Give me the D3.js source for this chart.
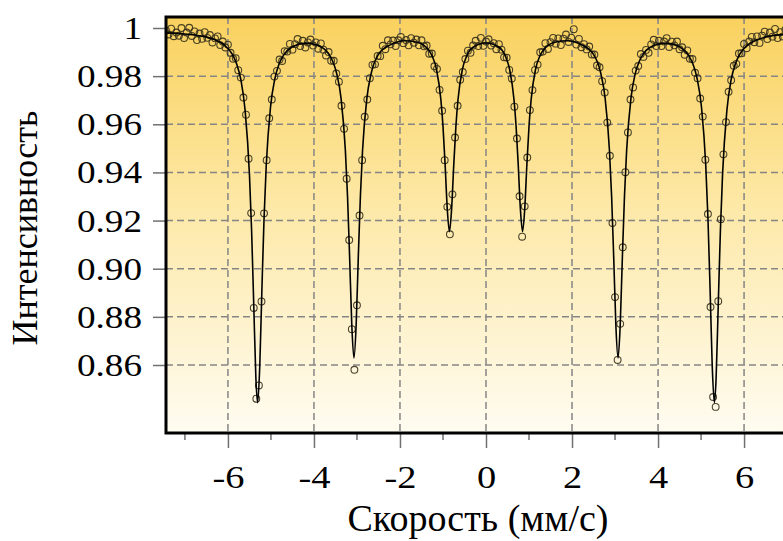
<!DOCTYPE html>
<html>
<head>
<meta charset="utf-8">
<script src="https://d3js.org/d3.v7.min.js"></script>
<style>
  body { margin: 0; background: #fff; }
  svg { display: block; }
</style>
</head>
<body>
<div id="chart"></div>
<script>
// measured spectrum: velocity (mm/s) and relative intensity
var velocity = [
  -7.44,-7.38,-7.32,-7.26,-7.2,-7.14,-7.08,-7.02,-6.96,-6.9,
  -6.84,-6.78,-6.72,-6.66,-6.6,-6.54,-6.48,-6.42,-6.36,-6.3,
  -6.24,-6.18,-6.12,-6.06,-6,-5.94,-5.88,-5.82,-5.76,-5.7,
  -5.64,-5.58,-5.52,-5.46,-5.4,-5.34,-5.28,-5.22,-5.16,-5.1,
  -5.04,-4.98,-4.92,-4.86,-4.8,-4.74,-4.68,-4.62,-4.56,-4.5,
  -4.44,-4.38,-4.32,-4.26,-4.2,-4.14,-4.08,-4.02,-3.96,-3.9,
  -3.84,-3.78,-3.72,-3.66,-3.6,-3.54,-3.48,-3.42,-3.36,-3.3,
  -3.24,-3.18,-3.12,-3.06,-3,-2.94,-2.88,-2.82,-2.76,-2.7,
  -2.64,-2.58,-2.52,-2.46,-2.4,-2.34,-2.28,-2.22,-2.16,-2.1,
  -2.04,-1.98,-1.92,-1.86,-1.8,-1.74,-1.68,-1.62,-1.56,-1.5,
  -1.44,-1.38,-1.32,-1.26,-1.2,-1.14,-1.08,-1.02,-0.96,-0.9,
  -0.84,-0.78,-0.72,-0.66,-0.6,-0.54,-0.48,-0.42,-0.36,-0.3,
  -0.24,-0.18,-0.12,-0.06,0,
  0.06,0.12,0.18,0.24,0.3,0.36,0.42,0.48,0.54,0.6,
  0.66,0.72,0.78,0.84,0.9,0.96,1.02,1.08,1.14,1.2,
  1.26,1.32,1.38,1.44,1.5,1.56,1.62,1.68,1.74,1.8,
  1.86,1.92,1.98,2.04,2.1,2.16,2.22,2.28,2.34,2.4,
  2.46,2.52,2.58,2.64,2.7,2.76,2.82,2.88,2.94,3,
  3.06,3.12,3.18,3.24,3.3,3.36,3.42,3.48,3.54,3.6,
  3.66,3.72,3.78,3.84,3.9,3.96,4.02,4.08,4.14,4.2,
  4.26,4.32,4.38,4.44,4.5,4.56,4.62,4.68,4.74,4.8,
  4.86,4.92,4.98,5.04,5.1,5.16,5.22,5.28,5.34,5.4,
  5.46,5.52,5.58,5.64,5.7,5.76,5.82,5.88,5.94,6,
  6.06,6.12,6.18,6.24,6.3,6.36,6.42,6.48,6.54,6.6,
  6.66,6.72,6.78,6.84,6.9,6.96,7.02,7.08,7.14,7.2,
  7.26,7.32,7.38,7.44
]

var intensity = [
  .9990,.9973,.9997,.9966,.9981,.9968,1.0000,.9958,.9981,1.0001,
  .9967,.9986,.9950,.9977,.9955,.9983,.9959,.9971,.9940,.9957,
  .9965,.9929,.9944,.9919,.9931,.9897,.9872,.9875,.9825,.9794,
  .9711,.9640,.9457,.9231,.8837,.8460,.8515,.8864,.9230,.9451,
  .9625,.9703,.9798,.9822,.9869,.9863,.9904,.9902,.9934,.9910,
  .9933,.9954,.9925,.9947,.9919,.9940,.9952,.9927,.9940,.9914,
  .9936,.9910,.9886,.9900,.9864,.9864,.9811,.9777,.9677,.9581,
  .9374,.9119,.8749,.8580,.8848,.9221,.9451,.9631,.9703,.9791,
  .9847,.9849,.9884,.9883,.9926,.9912,.9949,.9932,.9948,.9925,
  .9949,.9963,.9937,.9950,.9928,.9958,.9939,.9952,.9928,.9949,
  .9924,.9927,.9893,.9894,.9841,.9830,.9743,.9656,.9451,.9257,
  .9143,.9309,.9545,.9677,.9785,.9817,.9871,.9906,.9897,.9927,
  .9947,.9925,.9959,.9926,.9944,
  .9953,.9927,.9937,.9912,.9933,.9910,.9878,.9877,.9826,.9790,
  .9673,.9541,.9301,.9133,.9259,.9462,.9659,.9742,.9826,.9848,
  .9899,.9902,.9937,.9913,.9941,.9959,.9935,.9957,.9929,.9956,
  .9973,.9942,.9960,.9995,.9931,.9955,.9920,.9933,.9911,.9923,
  .9890,.9890,.9844,.9837,.9779,.9732,.9607,.9469,.9190,.8882,
  .8621,.8771,.9089,.9401,.9566,.9703,.9753,.9823,.9842,.9892,
  .9880,.9909,.9897,.9932,.9951,.9925,.9947,.9925,.9944,.9958,
  .9921,.9943,.9928,.9944,.9912,.9920,.9889,.9907,.9872,.9871,
  .9814,.9791,.9707,.9632,.9453,.9227,.8841,.8467,.8426,.8865,
  .9206,.9475,.9609,.9735,.9783,.9843,.9851,.9894,.9895,.9934,
  .9916,.9944,.9963,.9941,.9965,.9938,.9968,.9985,.9954,.9981,
  .9964,.9996,.9958,.9983,.9965,.9993,.9960,.9982,.9994,.9968,
  .9990,.9974,.9987,.9969
]

// fitted sextet curve
var fitVelocity = [
  -7.45,-7.0,-6.6,-6.3,-6.1,-5.9,-5.8,-5.7,-5.6,-5.5,-5.45,-5.4,-5.35,-5.31,-5.26,-5.21,-5.16,-5.11,-5.01,-4.91,
  -4.81,-4.71,-4.5,-4.2,-3.9,-3.67,-3.57,-3.47,-3.37,-3.27,-3.22,-3.17,-3.12,-3.07,-3.02,-2.97,-2.92,-2.87,-2.77,-2.67,
  -2.47,-2.2,-1.9,-1.6,-1.45,-1.35,-1.25,-1.15,-1.05,-1.0,-0.95,-0.9,-0.85,-0.8,-0.75,-0.7,-0.65,-0.55,-0.45,-0.3,
  0,
  0.3,0.45,0.55,0.65,0.7,0.75,0.8,0.85,0.9,0.95,1.0,1.05,1.15,1.25,1.35,1.45,1.6,1.9,2.2,2.47,
  2.67,2.77,2.87,2.92,2.97,3.02,3.07,3.12,3.17,3.22,3.27,3.37,3.47,3.57,3.67,3.9,4.2,4.5,4.71,4.81,
  4.91,5.01,5.11,5.16,5.21,5.26,5.31,5.35,5.4,5.45,5.5,5.6,5.7,5.8,5.9,6.1,6.3,6.6,7.0,7.45
]
var fitIntensity = [
  .9980,.9975,.9966,.9951,.9932,.9891,.9852,.9786,.9657,.9392,.9160,.8851,.8545,.8443,.8596,.8916,.9211,.9427,.9672,.9789,
  .9851,.9886,.9922,.9937,.9927,.9895,.9864,.9810,.9708,.9492,.9303,.9044,.8764,.8629,.8762,.9043,.9303,.9492,.9708,.9811,
  .9898,.9932,.9947,.9941,.9929,.9912,.9883,.9827,.9704,.9592,.9431,.9247,.9154,.9247,.9430,.9591,.9704,.9827,.9883,.9920,
  .9938,
  .9920,.9883,.9827,.9704,.9591,.9430,.9247,.9154,.9247,.9431,.9592,.9704,.9827,.9883,.9912,.9929,.9941,.9947,.9932,.9898,
  .9811,.9708,.9492,.9303,.9043,.8762,.8629,.8764,.9044,.9303,.9492,.9708,.9810,.9864,.9895,.9927,.9937,.9922,.9886,.9851,
  .9789,.9672,.9427,.9211,.8916,.8596,.8443,.8545,.8851,.9160,.9392,.9657,.9786,.9852,.9891,.9932,.9951,.9966,.9975,.9980
]

var xTicks = [-6, -4, -2, 0, 2, 4, 6]
var xMinorTicks = [-7, -5, -3, -1, 1, 3, 5, 7]
var yTicks = [1, 0.98, 0.96, 0.94, 0.92, 0.90, 0.88, 0.86]
var yTickLabels = ["1", "0.98", "0.96", "0.94", "0.92", "0.90", "0.88", "0.86"]

var width = 783
var height = 541
var pLeft = 166, pTop = 17, pRight = 806, pBottom = 433
var stretch = 1.2   // tick digits in the picture are a bit wider than Times
var serif = "'Liberation Serif', 'Times New Roman', serif"

var x = d3.scaleLinear().domain([-7.44, 7.44]).range([pLeft, pRight])
var y = d3.scaleLinear().domain([0.83175, 1.00457]).range([pBottom, pTop])

var svg = d3.select("#chart").append("svg")
    .attr("width", width)
    .attr("height", height)
    .style("font-family", serif)

var defs = svg.append("defs")
var grad = defs.append("linearGradient")
    .attr("id", "bg")
    .attr("x1", 0).attr("y1", 0).attr("x2", 0).attr("y2", 1)
grad.append("stop").attr("offset", "0%").attr("stop-color", "#f9d15e")
grad.append("stop").attr("offset", "45%").attr("stop-color", "#fde8a6")
grad.append("stop").attr("offset", "100%").attr("stop-color", "#fffcf1")

defs.append("clipPath").attr("id", "plotclip")
  .append("rect")
    .attr("x", pLeft).attr("y", pTop)
    .attr("width", pRight - pLeft).attr("height", pBottom - pTop)

svg.append("rect")
    .attr("x", pLeft).attr("y", pTop)
    .attr("width", pRight - pLeft).attr("height", pBottom - pTop)
    .attr("fill", "url(#bg)")

// dashed grid
var grid = svg.append("g")
    .attr("stroke", "#858585")
    .attr("stroke-width", 1.5)
    .attr("stroke-dasharray", "7,4")
grid.selectAll("line.v")
  .data(xTicks)
  .join("line")
    .attr("class", "v")
    .attr("x1", d => x(d)).attr("x2", d => x(d))
    .attr("y1", pTop).attr("y2", pBottom)
grid.selectAll("line.h")
  .data(yTicks.filter(d => d < 1))
  .join("line")
    .attr("class", "h")
    .attr("x1", pLeft).attr("x2", pRight)
    .attr("y1", d => y(d)).attr("y2", d => y(d))

var plot = svg.append("g").attr("clip-path", "url(#plotclip)")

var pts = velocity.map((v, i) => ({v: v, I: intensity[i]}))
plot.append("g")
    .attr("fill", "none")
    .attr("stroke", "#36311c")
    .attr("stroke-width", 1.1)
    .attr("stroke-opacity", 0.9)
  .selectAll("circle")
  .data(pts)
  .join("circle")
    .attr("cx", d => x(d.v))
    .attr("cy", d => y(d.I))
    .attr("r", 3.4)

var fit = fitVelocity.map((v, i) => [v, fitIntensity[i]])
var line = d3.line()
    .x(d => x(d[0]))
    .y(d => y(d[1]))
    .curve(d3.curveMonotoneX)
plot.append("path")
    .datum(fit)
    .attr("fill", "none")
    .attr("stroke", "#000")
    .attr("stroke-width", 1.6)
    .attr("d", line)

// axes
var yAxis = svg.append("g")
    .attr("transform", `translate(${pLeft},0)`)
    .call(d3.axisLeft(y).tickValues(yTicks).tickSize(13)
        .tickFormat((d, i) => yTickLabels[i]))
    .attr("font-family", serif)
    .attr("font-size", 31)
yAxis.select(".domain").remove()
yAxis.selectAll("line").attr("stroke", "#707070").attr("stroke-width", 1.5)
yAxis.selectAll("text")
    .attr("x", -20)
    .attr("dy", "0.34em")
    .attr("transform", `scale(${stretch},1)`)
    .attr("fill", "#000")

var xAxis = svg.append("g")
    .attr("transform", `translate(0,${pBottom})`)
    .call(d3.axisBottom(x).tickValues(xTicks).tickSize(15).tickPadding(17)
        .tickFormat(d => String(d)))
    .attr("font-family", serif)
    .attr("font-size", 32)
xAxis.select(".domain").remove()
xAxis.selectAll("line").attr("stroke", "#707070").attr("stroke-width", 1.5)
xAxis.selectAll("text")
    .attr("transform", `scale(${stretch},1)`)
    .attr("fill", "#000")

svg.append("g")
    .attr("stroke", "#707070")
    .attr("stroke-width", 1.5)
  .selectAll("line")
  .data(xMinorTicks)
  .join("line")
    .attr("x1", d => x(d)).attr("x2", d => x(d))
    .attr("y1", pBottom).attr("y2", pBottom + 7)

// frame
svg.append("rect")
    .attr("x", pLeft).attr("y", pTop)
    .attr("width", pRight - pLeft).attr("height", pBottom - pTop)
    .attr("fill", "none")
    .attr("stroke", "#000")
    .attr("stroke-width", 3)

// titles
svg.append("text")
    .attr("x", 478).attr("y", 531)
    .attr("text-anchor", "middle")
    .style("font-size", "38px")
    .text("Скорость (мм/с)")

svg.append("text")
    .attr("transform", "translate(37,228) rotate(-90)")
    .attr("text-anchor", "middle")
    .style("font-size", "36px")
    .text("Интенсивность")
</script>
</body>
</html>
